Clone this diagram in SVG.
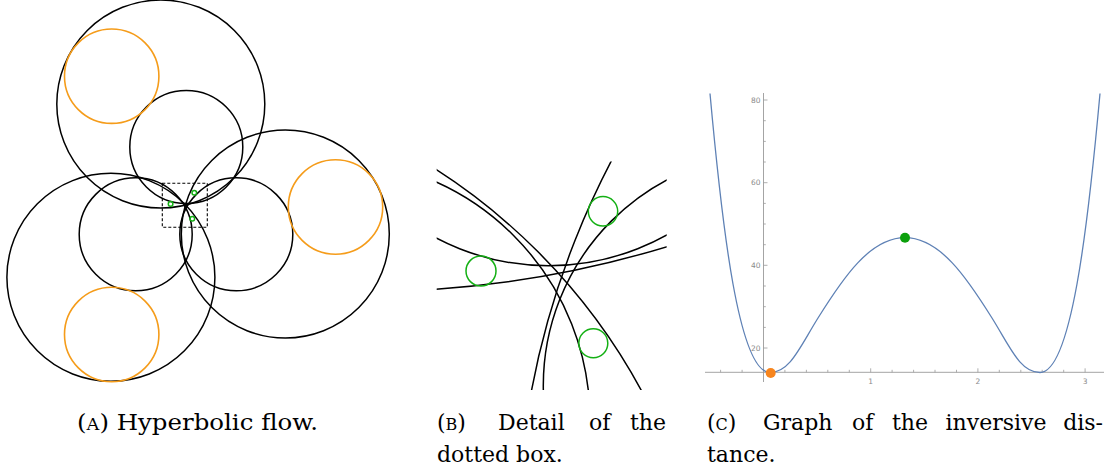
<svg xmlns="http://www.w3.org/2000/svg" width="1107" height="474" viewBox="0 0 1107 474">
<style>
.k{fill:none;stroke:#000;stroke-width:1.5}
.o{fill:none;stroke:#f59c1a;stroke-width:1.6}
.g{fill:none;stroke:#14b014;stroke-width:1.5}
.ax{stroke:#9a9a9a;stroke-width:0.9;fill:none}
.tk{stroke:#9a9a9a;stroke-width:0.8}
.lb{font-family:"DejaVu Sans","Liberation Sans",sans-serif;font-size:7.5px;fill:#8a8a8a}
.cap{font-family:"DejaVu Serif","Liberation Serif",serif;font-size:22px;fill:#000}
.sc{font-size:16px}
</style>
<defs>
<clipPath id="boxB"><rect x="436.7" y="161.5" width="230" height="228.5"/></clipPath>
</defs>

<g id="panel-a">
  <circle class="k" cx="160.8" cy="104" r="104"/>
  <circle class="k" cx="285.3" cy="234" r="104"/>
  <circle class="k" cx="110.9" cy="277.3" r="104"/>
  <circle class="k" cx="186.3" cy="147" r="56.5"/>
  <circle class="k" cx="135.7" cy="234.3" r="56.5"/>
  <circle class="k" cx="236.3" cy="234.3" r="56.5"/>
  <circle class="o" cx="111.7" cy="76.2" r="47.2"/>
  <circle class="o" cx="111.7" cy="334.5" r="47.2"/>
  <circle class="o" cx="335.5" cy="207" r="47.2"/>
  <circle class="g" cx="170.6" cy="203.9" r="2.3" stroke-width="1.3"/>
  <circle class="g" cx="194.3" cy="192.7" r="2.3" stroke-width="1.3"/>
  <circle class="g" cx="192.3" cy="218.8" r="2.3" stroke-width="1.3"/>
  <rect x="162.3" y="183.3" width="45" height="44" fill="none" stroke="#000" stroke-width="1.1" stroke-dasharray="3,2"/>
</g>

<g id="panel-b">
  <g clip-path="url(#boxB)">
    <circle class="k" cx="110.3" cy="678" r="603.8"/>
    <circle class="k" cx="329" cy="420" r="261"/>
    <circle class="k" cx="548.65" cy="23.85" r="241.9"/>
    <circle class="k" cx="363.2" cy="-756.8" r="1048.4"/>
    <circle class="k" cx="1336.2" cy="541.5" r="818.6"/>
    <circle class="k" cx="776.1" cy="385.5" r="232.8"/>
  </g>
  <circle class="g" cx="481" cy="271" r="15"/>
  <circle class="g" cx="603" cy="211.3" r="14.7"/>
  <circle class="g" cx="593.3" cy="343.3" r="14.5"/>
</g>

<g id="panel-c">
  <g id="axes">
    <line class="ax" x1="705" y1="372.3" x2="1104" y2="372.3"/>
    <line class="ax" x1="763.5" y1="93" x2="763.5" y2="382"/>
  </g>
  <g id="yticks" class="tk">
    <line x1="763.5" y1="100" x2="767.5" y2="100"/>
    <line x1="763.5" y1="182.7" x2="767.5" y2="182.7"/>
    <line x1="763.5" y1="265.3" x2="767.5" y2="265.3"/>
    <line x1="763.5" y1="348" x2="767.5" y2="348"/>
    <line x1="763.5" y1="120.7" x2="765.8" y2="120.7"/>
    <line x1="763.5" y1="141.4" x2="765.8" y2="141.4"/>
    <line x1="763.5" y1="162" x2="765.8" y2="162"/>
    <line x1="763.5" y1="203.4" x2="765.8" y2="203.4"/>
    <line x1="763.5" y1="224" x2="765.8" y2="224"/>
    <line x1="763.5" y1="244.7" x2="765.8" y2="244.7"/>
    <line x1="763.5" y1="286" x2="765.8" y2="286"/>
    <line x1="763.5" y1="306.7" x2="765.8" y2="306.7"/>
    <line x1="763.5" y1="327.4" x2="765.8" y2="327.4"/>
  </g>
  <g id="xticks" class="tk">
    <line x1="870.7" y1="372.3" x2="870.7" y2="368.3"/>
    <line x1="977.9" y1="372.3" x2="977.9" y2="368.3"/>
    <line x1="1085.1" y1="372.3" x2="1085.1" y2="368.3"/>
    <line x1="720.6" y1="372.3" x2="720.6" y2="369.8"/>
    <line x1="742.1" y1="372.3" x2="742.1" y2="369.8"/>
    <line x1="784.9" y1="372.3" x2="784.9" y2="369.8"/>
    <line x1="806.4" y1="372.3" x2="806.4" y2="369.8"/>
    <line x1="827.8" y1="372.3" x2="827.8" y2="369.8"/>
    <line x1="849.3" y1="372.3" x2="849.3" y2="369.8"/>
    <line x1="892.1" y1="372.3" x2="892.1" y2="369.8"/>
    <line x1="913.6" y1="372.3" x2="913.6" y2="369.8"/>
    <line x1="935" y1="372.3" x2="935" y2="369.8"/>
    <line x1="956.5" y1="372.3" x2="956.5" y2="369.8"/>
    <line x1="999.3" y1="372.3" x2="999.3" y2="369.8"/>
    <line x1="1020.8" y1="372.3" x2="1020.8" y2="369.8"/>
    <line x1="1042.2" y1="372.3" x2="1042.2" y2="369.8"/>
    <line x1="1063.7" y1="372.3" x2="1063.7" y2="369.8"/>
  </g>
  <g id="ylabels" class="lb" text-anchor="end">
    <text x="760.5" y="102.6">80</text>
    <text x="760.5" y="185.3">60</text>
    <text x="760.5" y="267.9">40</text>
    <text x="760.5" y="350.6">20</text>
  </g>
  <g id="xlabels" class="lb" text-anchor="middle">
    <text x="870.7" y="383.5">1</text>
    <text x="977.9" y="383.5">2</text>
    <text x="1085.1" y="383.5">3</text>
  </g>
  <path id="graph" fill="none" stroke="#5e81b5" stroke-width="1.3" d="M710,93.5 C717,170.5 725,240 733,284 C743,339 755,372.5 770,372.5 C790,372.5 800,346.8 818,318 C843,278 870,237.7 905,237.7 C940,237.7 967,278 992,318 C1010,346.8 1020,372.5 1040,372.5 C1055,372.5 1067,339 1077,284 C1085,240 1093,170.5 1100,93.5"/>
  <circle cx="770.7" cy="373" r="5" fill="#f7851e"/>
  <circle cx="905" cy="237.7" r="5" fill="#0ca00c"/>
</g>

<g id="captions" class="cap">
  <text x="77" y="430" textLength="241" lengthAdjust="spacingAndGlyphs">(<tspan class="sc">A</tspan>) Hyperbolic flow.</text>

  <text x="437" y="430">(<tspan class="sc">B</tspan>)</text>
  <text x="498" y="430">Detail</text>
  <text x="589" y="430">of</text>
  <text x="666" y="430" text-anchor="end">the</text>
  <text x="437" y="462">dotted box.</text>

  <text x="707" y="430">(<tspan class="sc">C</tspan>)</text>
  <text x="763" y="430">Graph</text>
  <text x="852" y="430">of</text>
  <text x="892" y="430">the</text>
  <text x="945.5" y="430">inversive</text>
  <text x="1103" y="430" text-anchor="end">dis-</text>
  <text x="707" y="462">tance.</text>
</g>
</svg>
